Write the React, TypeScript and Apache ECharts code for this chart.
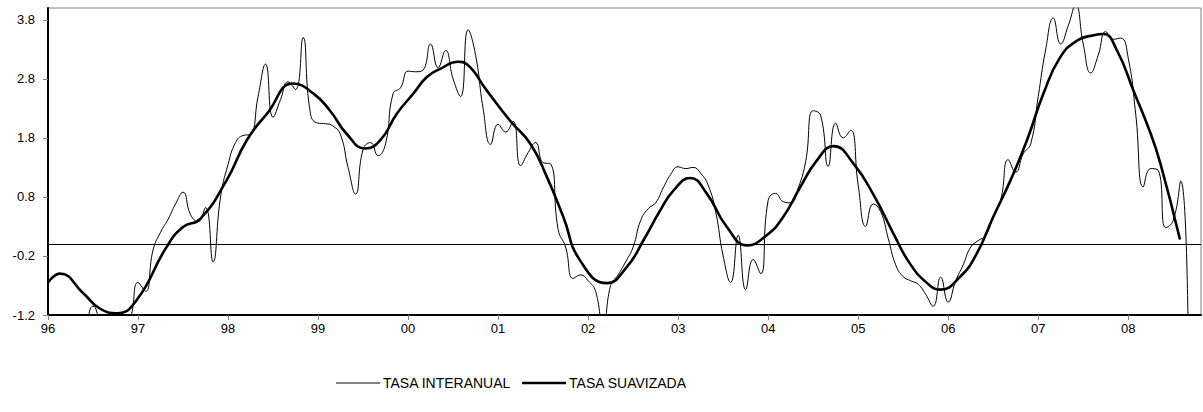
import React, { useEffect, useRef } from "react";
import * as echarts from "echarts";

// X tick labels (years), one every 12 months starting Jan 1996
const xLabels = ["96", "97", "98", "99", "00", "01", "02", "03", "04", "05", "06", "07", "08"];
const yTicks = [-1.2, -0.2, 0.8, 1.8, 2.8, 3.8];
const legendNames = ["TASA INTERANUAL", "TASA SUAVIZADA"];

// TASA INTERANUAL: monthly values, month 0 = Jan 1996
const thinValues = [
  -1.5, -1.55, -1.5, -1.45, -1.4, -1.3, -1.05, -1.3, -1.45, -1.5, -1.45, -1.25,
  -0.65, -0.8, -0.1, 0.2, 0.42, 0.68, 0.88, 0.5, 0.38, 0.62, -0.3, 0.8,
  1.35, 1.72, 1.84, 1.86, 2.5, 3.05, 2.15, 2.45, 2.75, 2.62, 3.5, 2.2,
  2.05, 2.04, 2.0, 1.85, 1.3, 0.85, 1.6, 1.72, 1.5, 1.7, 2.55, 2.65,
  2.93, 2.92, 2.95, 3.39, 2.99, 3.28, 2.8, 2.5, 3.63, 3.2, 2.3, 1.69,
  2.03, 1.9, 2.08, 1.33, 1.55, 1.72, 1.38, 1.36, 0.25, -0.05, -0.58, -0.52,
  -0.62, -0.8, -1.45, -0.7, -0.52, -0.3, -0.05, 0.4, 0.6, 0.7, 0.95, 1.18,
  1.31, 1.28, 1.3, 1.2, 1.0, 0.55, -0.2, -0.65, 0.15, -0.77, -0.26, -0.5,
  0.74, 0.86, 0.72, 0.7, 0.95, 1.4, 2.26, 2.18, 1.32, 2.05, 1.8, 1.93,
  1.0, 0.3, 0.68, 0.55, 0.1, -0.35, -0.55, -0.62, -0.68, -0.85, -1.05, -0.56,
  -0.98, -0.62, -0.35, -0.05, 0.06, 0.15, 0.46, 0.75, 1.43, 1.22, 1.53, 1.7,
  2.5, 3.3, 3.83, 3.39, 3.7, 4.05, 3.39, 2.9, 3.2, 3.6, 3.47, 3.49,
  3.15, 2.2, 0.97, 1.28, 1.25, 0.28, 0.4, 1.07, -1.6,
];

// TASA SUAVIZADA: read at these month positions
const thickMonths = [
  0, 1.6, 4.7, 6.9, 9.2, 11.8, 15.8, 18, 20.3, 23.8, 26.5, 29.2, 32.7, 35.4, 37.6,
  39.8, 42.3, 44.3, 46.5, 48.7, 50.5, 52.3, 54.7, 55.8, 58.5, 61.6, 64.3, 66.5, 68.7,
  70.9, 74.5, 77.2, 79.4, 81.6, 83.4, 85.6, 87.8, 90.5, 93.2, 95.8, 98, 100.3, 102.5,
  104.7, 107.4, 110.2, 112.7, 114.9, 117.2, 118.9, 121.6, 123.8, 126, 128.3, 130.5,
  132.7, 134.9, 137.2, 139.4, 140.7, 142.5, 144.7, 147, 148.3, 150.9,
];
const thickValues = [
  -0.65, -0.5, -0.83, -1.09, -1.17, -0.95, -0.05, 0.29, 0.43, 1.08, 1.76, 2.21, 2.72, 2.55, 2.26,
  1.87, 1.62, 1.76, 2.21, 2.55, 2.83, 2.97, 3.09, 3.05, 2.6, 2.09, 1.7, 1.14, 0.46,
  -0.27, -0.66, -0.38, 0.07, 0.57, 0.91, 1.12, 0.86, 0.29, -0.02, 0.15, 0.46, 0.97, 1.42,
  1.66, 1.36, 0.8, 0.18, -0.33, -0.66, -0.77, -0.55, -0.16, 0.46, 1.08, 1.76,
  2.55, 3.16, 3.45, 3.54, 3.56, 3.28, 2.6, 1.87, 1.36, 0.08,
];

const FONT_FAMILY = "'Liberation Sans', Arial, sans-serif";
const LEGEND_FONT = "14px 'Liberation Sans', Arial, sans-serif";

function measure(text: string, font: string): number {
  const c = document.createElement("canvas").getContext("2d");
  if (!c) return text.length * 9;
  c.font = font;
  return c.measureText(text).width;
}

export default function App() {
  const ref = useRef<HTMLDivElement>(null);
  useEffect(() => {
    if (!ref.current) return;
    const chart = echarts.init(ref.current, undefined, { renderer: "svg" });
    const xTickValues = xLabels.map((_, i) => i * 12);

    // legend drawn as graphic: line sample + text
    const legendY = 383;
    const lineLen = 44;
    const x1 = 336;
    const t1x = x1 + lineLen + 3;
    const w1 = measure(legendNames[0], LEGEND_FONT);
    const x2 = t1x + w1 + 11;
    const t2x = x2 + lineLen + 3;
    const legendWidths = [1, 2.6];

    chart.setOption({
      animation: false,
      backgroundColor: "#ffffff",
      textStyle: { fontFamily: FONT_FAMILY },
      grid: {
        left: 48,
        right: 2,
        top: 8,
        bottom: 97,
        show: true,
        borderColor: "#808080",
        borderWidth: 1,
      },
      graphic: [
        {
          type: "line",
          shape: { x1: x1, y1: legendY, x2: x1 + lineLen, y2: legendY },
          style: { stroke: "#000", lineWidth: legendWidths[0] },
        },
        {
          type: "text",
          x: t1x,
          y: legendY,
          style: { text: legendNames[0], font: LEGEND_FONT, fill: "#000", verticalAlign: "middle" },
        },
        {
          type: "line",
          shape: { x1: x2, y1: legendY, x2: x2 + lineLen, y2: legendY },
          style: { stroke: "#000", lineWidth: legendWidths[1] },
        },
        {
          type: "text",
          x: t2x,
          y: legendY,
          style: { text: legendNames[1], font: LEGEND_FONT, fill: "#000", verticalAlign: "middle" },
        },
      ],
      xAxis: {
        type: "value",
        min: 0,
        max: 153.7,
        interval: 12,
        splitLine: { show: false },
        axisLine: { onZero: false, lineStyle: { color: "#000", width: 2 } },
        axisTick: {
          length: 5,
          customValues: xTickValues,
          lineStyle: { color: "#808080", width: 1 },
        },
        axisLabel: {
          customValues: xTickValues,
          margin: 7,
          fontSize: 13,
          color: "#000",
          fontFamily: FONT_FAMILY,
          formatter: (v: number) => xLabels[Math.round(v / 12)] ?? "",
        },
      },
      yAxis: {
        type: "value",
        min: -1.2,
        max: 4.0,
        interval: 1,
        splitLine: { show: false },
        axisLine: { onZero: false, lineStyle: { color: "#000", width: 2 } },
        axisTick: {
          length: 5,
          customValues: yTicks,
          lineStyle: { color: "#808080", width: 1 },
        },
        axisLabel: {
          customValues: yTicks,
          margin: 13,
          fontSize: 13,
          color: "#000",
          fontFamily: FONT_FAMILY,
          formatter: (v: number) => v.toFixed(1),
        },
      },
      series: [
        {
          name: legendNames[0],
          type: "line",
          data: thinValues.map((v, i) => [i, v]),
          smooth: 0.5,
          symbol: "none",
          clip: true,
          lineStyle: { color: "#000", width: 1 },
          itemStyle: { color: "#000" },
          markLine: {
            silent: true,
            symbol: ["none", "none"],
            label: { show: false },
            lineStyle: { color: "#000", width: 1, type: "solid" },
            data: [{ yAxis: 0 }],
          },
        },
        {
          name: legendNames[1],
          type: "line",
          data: thickMonths.map((m, i) => [m, thickValues[i]]),
          smooth: 0.5,
          symbol: "none",
          clip: true,
          lineStyle: { color: "#000", width: 2.6 },
          itemStyle: { color: "#000" },
        },
      ],
    });
    return () => chart.dispose();
  }, []);
  return (
    <div
      ref={ref}
      style={{ position: "fixed", left: 0, top: 0, width: 1203, height: 412, background: "#fff" }}
    />
  );
}
